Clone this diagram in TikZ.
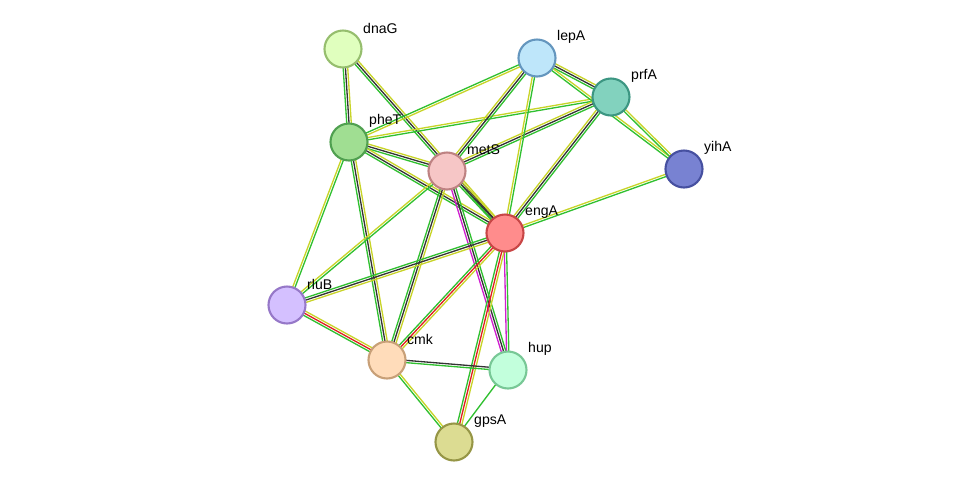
\documentclass[tikz,border=0pt]{standalone}
\usepackage{fontspec}
\setmainfont{Liberation Sans}
\usetikzlibrary{calc}

\definecolor{tm}{HTML}{C8D428}
\definecolor{nb}{HTML}{30C030}
\definecolor{co}{HTML}{333333}
\definecolor{fu}{HTML}{E02020}
\definecolor{ex}{HTML}{D020D0}

\tikzset{
  prot/.style={circle, minimum size=0.74cm, inner sep=0pt, line width=1.2pt},
  lbl/.style={anchor=west, font=\fontsize{8}{10}\selectfont},
}

% edge = parallel thin lines, one per evidence colour
\newcommand\edge[3]{%
  \foreach \c [count=\i] in {#3} {
    \pgfmathsetmacro\o{(\i-1)*1.3-0.6}
    \draw[\c, line width=0.75pt] ($(#1)!\o pt!90:(#2)$) -- ($(#2)!\o pt!-90:(#1)$);
  }}

\begin{document}
\begin{tikzpicture}[x=0.02cm, y=-0.02cm]
  \useasboundingbox (0,0) rectangle (975,488);

  % node positions
  \coordinate (dnaG) at (343,49);
  \coordinate (lepA) at (537,58);
  \coordinate (prfA) at (611,97);
  \coordinate (yihA) at (684,169);
  \coordinate (pheT) at (349,142);
  \coordinate (metS) at (447,171);
  \coordinate (engA) at (505,233);
  \coordinate (rluB) at (287,305);
  \coordinate (cmk)  at (387,360);
  \coordinate (hup)  at (508,370);
  \coordinate (gpsA) at (454,442);

  % edges
  \edge{dnaG}{pheT}{nb,co,tm}
  \edge{dnaG}{engA}{nb,co,tm}
  \edge{pheT}{metS}{nb,co,tm}
  \edge{pheT}{engA}{nb,co,tm}
  \edge{pheT}{lepA}{tm,nb}
  \edge{pheT}{prfA}{nb,tm}
  \edge{pheT}{rluB}{tm,nb}
  \edge{pheT}{cmk}{nb,co,tm}
  \edge{metS}{lepA}{nb,co,tm}
  \edge{metS}{prfA}{nb,co,tm}
  \edge{metS}{engA}{nb,co,tm}
  \edge{metS}{rluB}{tm,nb}
  \edge{metS}{cmk}{nb,co,tm}
  \edge{metS}{hup}{ex,co,nb}
  \edge{engA}{lepA}{nb,tm}
  \edge{engA}{prfA}{nb,co,tm}
  \edge{engA}{yihA}{nb,tm}
  \edge{engA}{rluB}{nb,co,tm}
  \edge{engA}{cmk}{nb,fu,tm}
  \edge{engA}{hup}{ex,nb}
  \edge{engA}{gpsA}{nb,fu,tm}
  \edge{lepA}{prfA}{nb,co,tm}
  \edge{lepA}{yihA}{nb,tm}
  \edge{prfA}{yihA}{nb,tm}
  \edge{rluB}{cmk}{nb,fu,tm}
  \edge{cmk}{hup}{nb,co}
  \edge{cmk}{gpsA}{nb,tm}
  \edge{hup}{gpsA}{nb}

  % proteins
  \node[prot, draw={rgb,255:red,150;green,190;blue,110}, fill={rgb,255:red,224;green,255;blue,190}] (n-dnaG) at (dnaG) {};
  \node[prot, draw={rgb,255:red,100;green,150;blue,190}, fill={rgb,255:red,190;green,230;blue,250}] (n-lepA) at (lepA) {};
  \node[prot, draw={rgb,255:red,60;green,150;blue,130}, fill={rgb,255:red,130;green,210;blue,190}] (n-prfA) at (prfA) {};
  \node[prot, draw={rgb,255:red,70;green,80;blue,160}, fill={rgb,255:red,120;green,130;blue,210}] (n-yihA) at (yihA) {};
  \node[prot, draw={rgb,255:red,80;green,160;blue,80}, fill={rgb,255:red,160;green,222;blue,146}] (n-pheT) at (pheT) {};
  \node[prot, draw={rgb,255:red,190;green,130;blue,130}, fill={rgb,255:red,246;green,198;blue,198}] (n-metS) at (metS) {};
  \node[prot, draw={rgb,255:red,200;green,70;blue,70}, fill={rgb,255:red,255;green,140;blue,140}] (n-engA) at (engA) {};
  \node[prot, draw={rgb,255:red,150;green,120;blue,200}, fill={rgb,255:red,212;green,192;blue,255}] (n-rluB) at (rluB) {};
  \node[prot, draw={rgb,255:red,200;green,160;blue,120}, fill={rgb,255:red,255;green,220;blue,186}] (n-cmk) at (cmk) {};
  \node[prot, draw={rgb,255:red,120;green,200;blue,150}, fill={rgb,255:red,194;green,255;blue,220}] (n-hup) at (hup) {};
  \node[prot, draw={rgb,255:red,150;green,150;blue,70}, fill={rgb,255:red,220;green,220;blue,146}] (n-gpsA) at (gpsA) {};

  % labels
  \foreach \p in {dnaG,lepA,prfA,yihA,pheT,metS,engA,rluB,cmk,hup,gpsA}
    \node[lbl] (l-\p) at ($(\p)+(14,-21)$) {\p};
\end{tikzpicture}
\end{document}
